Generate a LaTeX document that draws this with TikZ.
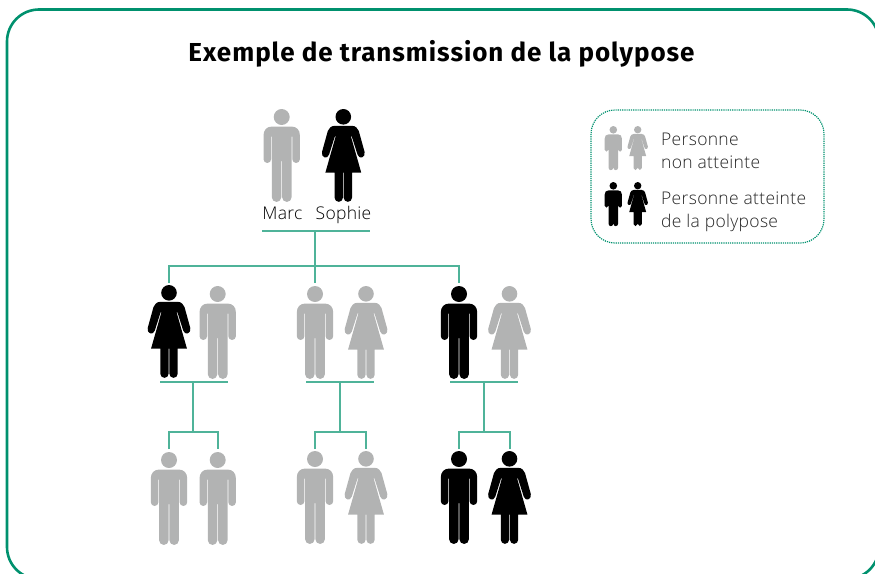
\documentclass[tikz,border=0pt]{standalone}
\usepackage{fontspec}
\setmainfont{Lato}
\newfontfamily\lightf[LetterSpace=1.8]{Open Sans Light}
\newfontfamily\titlef[LetterSpace=3.7]{Fira Sans Bold}
\definecolor{frame}{HTML}{00916E}
\definecolor{linkc}{HTML}{4FB399}
\definecolor{grayp}{HTML}{B2B3B3}
\tikzset{
  x=1pt,y=-1pt,
  link/.style={draw=linkc,line width=1.1pt},
  lab/.style={font=\lightf\fontsize{17.5}{19}\selectfont,text=black!85,inner sep=0pt},
  man/.pic={
    \fill (0,8) circle (8);
    \fill (-9.5,17.5) -- (9.5,17.5) .. controls (15,17.5) and (18.2,21) .. (18.2,26.5)
      -- (18.2,50.2) arc[start angle=0,end angle=180,radius=3.8] -- (10.6,27.5) -- (9.9,27.5)
      -- (9.9,88.2) arc[start angle=0,end angle=180,radius=4.75] -- (0.4,52) -- (-0.4,52)
      -- (-0.4,88.2) arc[start angle=0,end angle=180,radius=4.75] -- (-9.9,27.5) -- (-10.6,27.5)
      -- (-10.6,50.2) arc[start angle=0,end angle=180,radius=3.8] -- (-18.2,26.5)
      .. controls (-18.2,21) and (-15,17.5) .. (-9.5,17.5) -- cycle;
  },
  woman/.pic={
    \fill (0,7.8) circle (7.8);
    \fill (-8.5,16.8) -- (8.5,16.8) .. controls (12.5,16.8) and (14.3,19.5) .. (15.5,22)
      -- (21.3,43) .. controls (22.5,48.5) and (15.8,51) .. (14.2,45.5)
      -- (8.4,27.3) -- (7.6,27.3) -- (17.9,63.5) -- (8.7,63.5) -- (8.7,88.7)
      arc[start angle=0,end angle=180,radius=4.15] -- (0.4,63.5) -- (-0.4,63.5)
      -- (-0.4,88.7) arc[start angle=0,end angle=180,radius=4.15] -- (-8.7,63.5) -- (-17.9,63.5)
      -- (-7.6,27.3) -- (-8.4,27.3) -- (-14.2,45.5)
      .. controls (-15.8,51) and (-22.5,48.5) .. (-21.3,43) -- (-15.5,22)
      .. controls (-14.3,19.5) and (-12.5,16.8) .. (-8.5,16.8) -- cycle;
  },
  gp/.style={fill=grayp},
  bp/.style={fill=black}
}
\begin{document}
\begin{tikzpicture}[x=1pt,y=-1pt]
\useasboundingbox (0,0) rectangle (875,573);
\begin{scope}
\clip (0,0) rectangle (875,573);
\draw[frame,line width=2.6pt,rounded corners=32pt] (7,9.5) rectangle (879,579);
\end{scope}
\node[inner sep=0pt,anchor=base,font=\titlef\fontsize{26}{30}\selectfont,text=black] (title) at (441.5,61) {Exemple de transmission de la polypose};
% people
\foreach \nm/\kind/\st/\cx/\ty in {
 marc/man/gp/281.7/109, sophie/woman/bp/343.3/109,
 a1/woman/bp/169/285, a2/man/gp/217.7/286,
 b1/man/gp/315/286, b2/woman/gp/366/286,
 c1/man/bp/459/286, c2/woman/gp/509.5/286,
 d1/man/gp/169/452, d2/man/gp/217.7/452,
 e1/man/gp/315/451, e2/woman/gp/366/451,
 f1/man/bp/459/451, f2/woman/bp/509.5/451}{
  \coordinate (\nm) at (\cx,\ty);
  \pic[\st] at (\nm) {\kind};
}
\node[lab,anchor=base,text=black] (nmarc) at (282.5,219.6) {Marc};
\node[lab,anchor=base,text=black] (nsoph) at (343.5,219.6) {Sophie};
% couples
\coordinate (pl) at (262,231); \coordinate (pr) at (370,231); \coordinate (pm) at (315,231);
\coordinate (pb) at (315,266); \coordinate (s1) at (169,266); \coordinate (s3) at (459,266);
\coordinate (t1) at (169,283); \coordinate (t2) at (315,283); \coordinate (t3) at (459,283);
\draw[link] (pl) -- (pr);
\draw[link] (pm) -- (pb);
\draw[link] (t1) -- (s1) -- (s3) -- (t3);
\draw[link] (pb) -- (t2);
\foreach \n/\xl/\xr/\xm/\xa/\xb in {a/160/228/193/169/218, b/306/374/340/315/366, c/450/518/484/459/510}{
  \coordinate (\n l) at (\xl,382); \coordinate (\n r) at (\xr,382);
  \coordinate (\n m) at (\xm,382); \coordinate (\n j) at (\xm,432);
  \coordinate (\n ja) at (\xa,432); \coordinate (\n jb) at (\xb,432);
  \coordinate (\n ea) at (\xa,449); \coordinate (\n eb) at (\xb,449);
  \draw[link] (\n l) -- (\n r);
  \draw[link] (\n m) -- (\n j);
  \draw[link] (\n ea) -- (\n ja) -- (\n jb) -- (\n eb);
}
% legend
\draw[frame,line width=1.2pt,densely dotted,rounded corners=24pt] (591,110) rectangle (824,243);
\foreach \nm/\kind/\st/\cx/\ty in {lg1/man/gp/613.3/126, lg2/woman/gp/637.7/126, lg3/man/bp/613.3/182, lg4/woman/bp/637.7/182}{
  \coordinate (\nm) at (\cx,\ty);
  \pic[\st,scale=0.475] at (\nm) {\kind};
}
\node[lab,anchor=base west] (l1) at (661,145.5) {Personne};
\node[lab,anchor=base west] (l2) at (661,168.5) {non atteinte};
\node[lab,anchor=base west] (l3) at (661,204.5) {Personne atteinte};
\node[lab,anchor=base west] (l4) at (661,227.5) {de la polypose};
\end{tikzpicture}
\end{document}
